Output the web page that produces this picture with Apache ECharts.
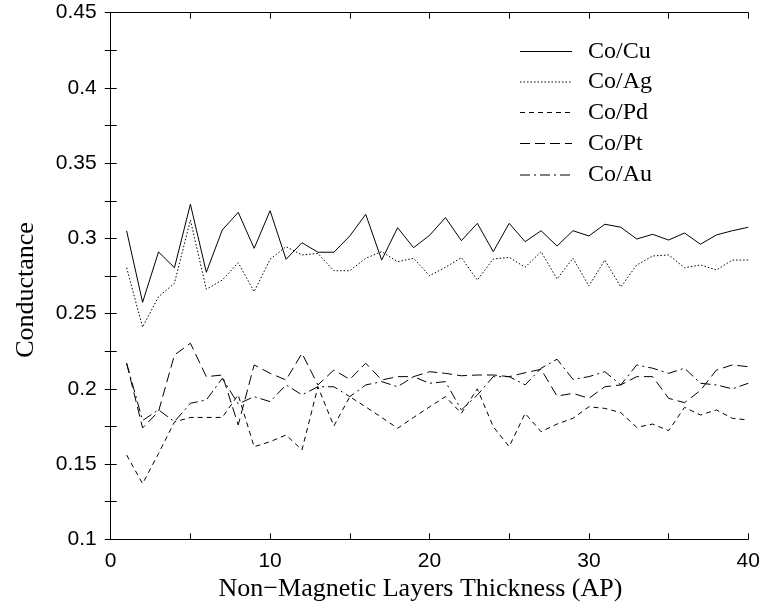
<!DOCTYPE html>
<html>
<head>
<meta charset="utf-8">
<script src="https://cdn.jsdelivr.net/npm/echarts@6/dist/echarts.min.js"></script>
<style>
    html, body { margin: 0; padding: 0; background: #fff; }
    #main { width: 764px; height: 613px; }
</style>
</head>
<body>
<div id="main"></div>
<script>
    // layers 1..40
    var thickness = [];
    for (var i = 1; i <= 40; i++) thickness.push(i);

    var coCu = [0.305, 0.2575, 0.291, 0.2805, 0.3227, 0.2775, 0.3056, 0.3173, 0.2934, 0.3184,
        0.2861, 0.2971, 0.2908, 0.2908, 0.3016, 0.316, 0.2856, 0.3071, 0.2938, 0.302,
        0.3138, 0.2985, 0.310, 0.2912, 0.310, 0.2978, 0.3051, 0.2949, 0.3051, 0.3016,
        0.3094, 0.3074, 0.2996, 0.3027, 0.2989, 0.3036, 0.2961, 0.3023, 0.3051, 0.3074];
    var coAg = [0.2805, 0.241, 0.2612, 0.2702, 0.3122, 0.2662, 0.2723, 0.2838, 0.2646, 0.2861,
        0.2945, 0.289, 0.290, 0.2785, 0.2785, 0.2868, 0.2912, 0.2845, 0.2868, 0.2752,
        0.2808, 0.2872, 0.2723, 0.2863, 0.2874, 0.2808, 0.2912, 0.273, 0.2868, 0.2684,
        0.2856, 0.2677, 0.2823, 0.2883, 0.289, 0.2805, 0.2823, 0.279, 0.2856, 0.2856];
    var coPd = [0.156, 0.137, 0.157, 0.178, 0.181, 0.181, 0.181, 0.196, 0.1615, 0.1649,
        0.1693, 0.1594, 0.2014, 0.1753, 0.1948, 0.188, 0.181, 0.1738, 0.181, 0.188,
        0.1948, 0.1837, 0.200, 0.1748, 0.1616, 0.1837, 0.1715, 0.1766, 0.1804, 0.1881,
        0.187, 0.1842, 0.1744, 0.1766, 0.1722, 0.1877, 0.1826, 0.186, 0.1804, 0.1793];
    var coPt = [0.217, 0.174, 0.185, 0.2225, 0.2303, 0.2081, 0.2092, 0.176, 0.2159, 0.2103,
        0.2059, 0.2236, 0.2026, 0.2125, 0.2063, 0.217, 0.2059, 0.2081, 0.2081, 0.2114,
        0.2103, 0.2087, 0.2092, 0.2092, 0.2081, 0.2107, 0.213, 0.1952, 0.197, 0.1937,
        0.2014, 0.2026, 0.2081, 0.2081, 0.1937, 0.1908, 0.199, 0.2125, 0.2159, 0.2147];
    var coAu = [0.217, 0.179, 0.186, 0.1782, 0.1904, 0.1926, 0.207, 0.19, 0.1948, 0.1915,
        0.2026, 0.196, 0.2014, 0.2014, 0.1948, 0.2026, 0.2048, 0.2014, 0.2081, 0.2037,
        0.2048, 0.186, 0.1959, 0.2081, 0.2081, 0.2026, 0.2137, 0.2197, 0.2063, 0.2081,
        0.2114, 0.2026, 0.2159, 0.2137, 0.2103, 0.2137, 0.2037, 0.2026, 0.2, 0.2037];

    var seriesNames = ['Co/Cu', 'Co/Ag', 'Co/Pd', 'Co/Pt', 'Co/Au'];
    var seriesData = [coCu, coAg, coPd, coPt, coAu];
    var dashTypes = ['solid', [1.5, 2], [5, 4], [10, 5], [10, 4, 2, 4]];

    var serif = "'Liberation Serif', 'Times New Roman', serif";
    var sans = "'Liberation Sans', Arial, sans-serif";

    var chart = echarts.init(document.getElementById('main'));

    var series = seriesNames.map(function (name, k) {
        return {
            name: name,
            type: 'line',
            symbol: 'none',
            animation: false,
            data: thickness.map(function (t, j) { return [t, seriesData[k][j]]; }),
            lineStyle: { color: '#000', width: 1, type: dashTypes[k] },
            itemStyle: { color: '#000' }
        };
    });

    // legend drawn by hand so the dash patterns show at full length
    var legendRows = [51.5, 82, 112.5, 143.5, 175];
    var legendItems = [];
    seriesNames.forEach(function (name, k) {
        legendItems.push({
            type: 'line',
            shape: { x1: 520, y1: legendRows[k], x2: 572, y2: legendRows[k] },
            style: { stroke: '#000', lineWidth: 1, lineDash: dashTypes[k] === 'solid' ? null : dashTypes[k] }
        });
        legendItems.push({
            type: 'text',
            x: 588, y: legendRows[k],
            style: { text: name, fill: '#000', font: '24px ' + serif, textVerticalAlign: 'middle' }
        });
    });

    var tickStyle = { show: true, inside: true, length: 6, lineStyle: { color: '#000' } };

    var option = {
        backgroundColor: '#fff',
        grid: { left: 110.7, right: 15.7, top: 12.7, bottom: 73.7 },
        graphic: legendItems,
        xAxis: [{
            type: 'value',
            min: 0, max: 40, interval: 5,
            name: 'Non\u2212Magnetic Layers Thickness (AP)',
            nameLocation: 'middle',
            nameGap: 35,
            nameTextStyle: { fontFamily: serif, fontSize: 26, color: '#000', padding: [0, 18, 0, 0] },
            axisLine: { show: true, lineStyle: { color: '#000' } },
            axisTick: tickStyle,
            splitLine: { show: false },
            axisLabel: {
                fontFamily: sans, fontSize: 21, color: '#000', margin: 11,
                formatter: function (v) { return v % 10 === 0 ? String(v) : ''; }
            }
        }, {
            type: 'value', position: 'top',
            min: 0, max: 40, interval: 5,
            axisLine: { show: true, lineStyle: { color: '#000' } },
            axisTick: tickStyle,
            axisLabel: { show: false },
            splitLine: { show: false }
        }],
        yAxis: [{
            type: 'value',
            min: 0.1, max: 0.45, interval: 0.025,
            name: 'Conductance',
            nameLocation: 'middle',
            nameGap: 72,
            nameTextStyle: { fontFamily: serif, fontSize: 26, color: '#000', padding: [0, 28, 0, 0] },
            axisLine: { show: true, lineStyle: { color: '#000' } },
            axisTick: tickStyle,
            splitLine: { show: false },
            axisLabel: {
                fontFamily: sans, fontSize: 21, color: '#000', margin: 14,
                formatter: function (v) {
                    var m = Math.round(v * 1000);
                    return m % 50 === 0 ? String(m / 1000) : '';
                }
            }
        }, {
            type: 'value', position: 'right',
            min: 0.1, max: 0.45, interval: 0.025,
            axisLine: { show: true, lineStyle: { color: '#000' } },
            axisTick: tickStyle,
            axisLabel: { show: false },
            splitLine: { show: false }
        }],
        series: series
    };
    chart.setOption(option);
</script>
</body>
</html>
